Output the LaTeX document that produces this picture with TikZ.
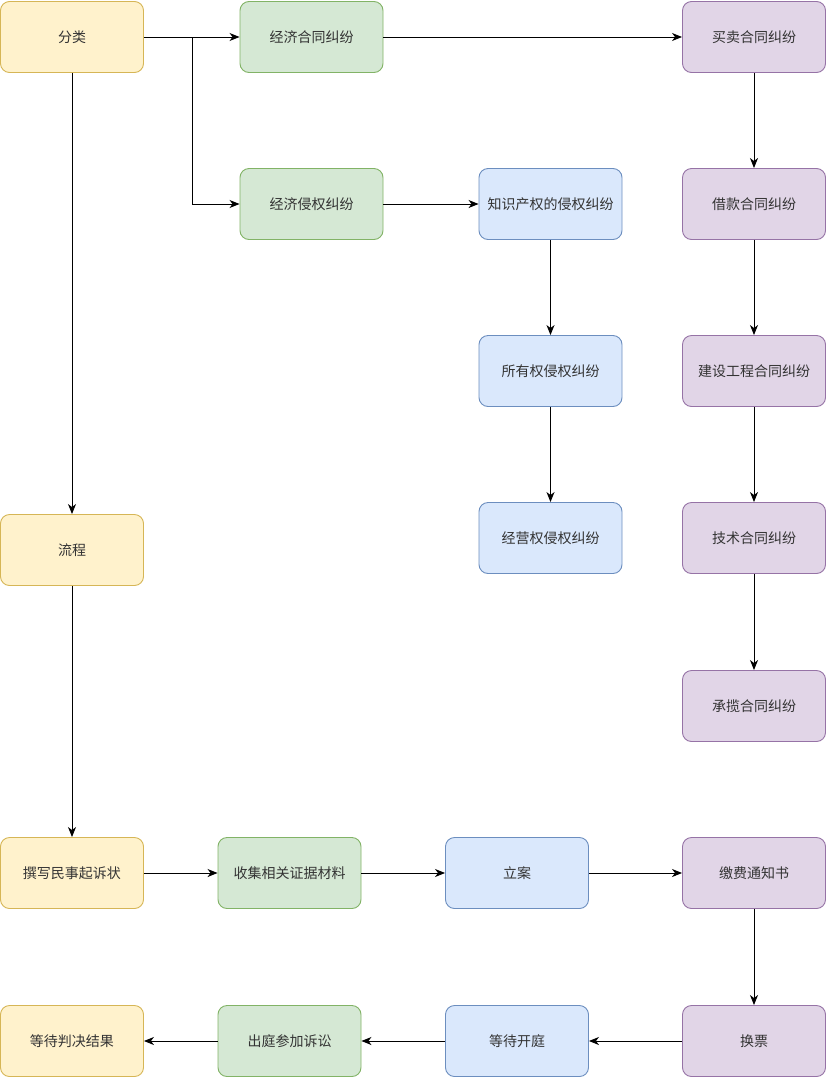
\documentclass[tikz,border=0pt]{standalone}
\usepackage{fontspec}
\setmainfont{Noto Sans CJK SC}
\usetikzlibrary{arrows.meta}
\definecolor{yfill}{HTML}{FFF2CC}\definecolor{ydraw}{HTML}{D6B656}
\definecolor{gfill}{HTML}{D5E8D4}\definecolor{gdraw}{HTML}{82B366}
\definecolor{bfill}{HTML}{DAE8FC}\definecolor{bdraw}{HTML}{6C8EBF}
\definecolor{pfill}{HTML}{E1D5E7}\definecolor{pdraw}{HTML}{9673A6}
\definecolor{txt}{HTML}{333333}
\begin{document}
\begin{tikzpicture}[x=1pt,y=-1pt,
  box/.style={rounded corners=9pt,minimum width=143pt,minimum height=71pt,inner sep=0pt,font=\fontsize{14}{16}\selectfont,text=txt,line width=0.9pt},
  yb/.style={box,fill=yfill,draw=ydraw},
  gb/.style={box,fill=gfill,draw=gdraw},
  bb/.style={box,fill=bfill,draw=bdraw},
  pb/.style={box,fill=pfill,draw=pdraw},
  arr/.style={-{Stealth[length=10pt,width=8pt,inset=3pt]},line width=1pt,black}]
\useasboundingbox (0,0) rectangle (826,1077);
\node[yb] (fenlei) at (72,37) {分类};
\node[gb] (jjht) at (311.5,37) {经济合同纠纷};
\node[pb] (mm) at (754,37) {买卖合同纠纷};
\node[gb] (jjqq) at (311.5,204) {经济侵权纠纷};
\node[bb] (zscq) at (550.5,204) {知识产权的侵权纠纷};
\node[pb] (jk) at (754,204) {借款合同纠纷};
\node[bb] (syq) at (550.5,371) {所有权侵权纠纷};
\node[pb] (js) at (754,371) {建设工程合同纠纷};
\node[yb] (lc) at (72,550) {流程};
\node[bb] (jyq) at (550.5,538) {经营权侵权纠纷};
\node[pb] (jsht) at (754,538) {技术合同纠纷};
\node[pb] (cl) at (754,706) {承揽合同纠纷};
\node[yb] (zx) at (72,873) {撰写民事起诉状};
\node[gb] (sj) at (289.5,873) {收集相关证据材料};
\node[bb] (la) at (517,873) {立案};
\node[pb] (jf) at (754,873) {缴费通知书};
\node[pb] (hp) at (754,1041) {换票};
\node[bb] (ddkt) at (517,1041) {等待开庭};
\node[gb] (ct) at (289.5,1041) {出庭参加诉讼};
\node[yb] (ddpj) at (72,1041) {等待判决结果};
\coordinate (br) at (192,37);
\draw[arr] (fenlei) -- (jjht);
\draw[arr] (br) |- (jjqq);
\draw[arr] (jjht) -- (mm);
\draw[arr] (jjqq) -- (zscq);
\draw[arr] (zscq) -- (syq);
\draw[arr] (syq) -- (jyq);
\draw[arr] (mm) -- (jk);
\draw[arr] (jk) -- (js);
\draw[arr] (js) -- (jsht);
\draw[arr] (jsht) -- (cl);
\draw[arr] (fenlei) -- (lc);
\draw[arr] (lc) -- (zx);
\draw[arr] (zx) -- (sj);
\draw[arr] (sj) -- (la);
\draw[arr] (la) -- (jf);
\draw[arr] (jf) -- (hp);
\draw[arr] (hp) -- (ddkt);
\draw[arr] (ddkt) -- (ct);
\draw[arr] (ct) -- (ddpj);
\end{tikzpicture}
\end{document}
